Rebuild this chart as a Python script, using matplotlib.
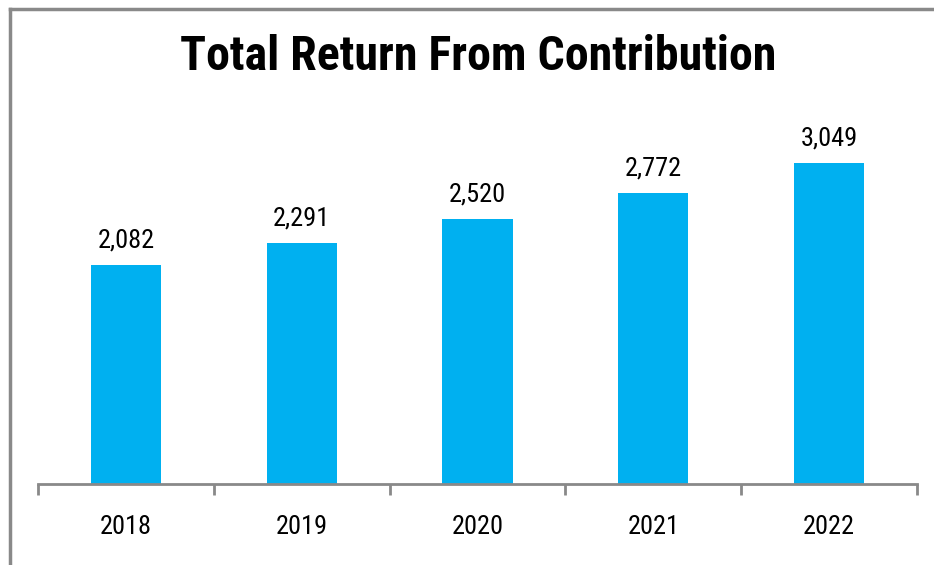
import matplotlib
matplotlib.use('Agg')
import matplotlib.pyplot as plt
from matplotlib.lines import Line2D

plt.rcParams['font.family'] = ['Roboto Condensed', 'DejaVu Sans']

# Data
years = ['2018', '2019', '2020', '2021', '2022']
returns = [2082, 2291, 2520, 2772, 3049]

BAR_COLOR = '#00B0F0'
AXIS_COLOR = '#898989'

fig = plt.figure(figsize=(9.34, 5.65), dpi=100)
ax = fig.add_axes([38 / 934, 81 / 565, (917 - 38) / 934, (484 - 116) / 565])

x = list(range(len(years)))
bars = ax.bar(x, returns, width=0.40, color=BAR_COLOR)
ax.bar_label(bars, labels=[f'{v:,}' for v in returns], padding=9, fontsize=19)

ax.set_xlim(-0.5, len(years) - 0.5)
ax.set_ylim(0, 3500)

# spines
for side in ['top', 'right', 'left']:
    ax.spines[side].set_visible(False)
ax.spines['bottom'].set_color(AXIS_COLOR)
ax.spines['bottom'].set_linewidth(2)
ax.set_yticks([])

# tick marks at category boundaries, labels at centers
ax.set_xticks([i - 0.5 for i in range(len(years) + 1)])
ax.set_xticklabels([])
ax.tick_params(axis='x', which='major', length=8, width=2, color=AXIS_COLOR, direction='out')
ax.set_xticks(x, minor=True)
ax.set_xticklabels(years, minor=True, fontsize=19)
ax.tick_params(axis='x', which='minor', length=0, pad=22)

fig.text(478 / 934, 1 - 57 / 565, 'Total Return From Contribution',
         ha='center', va='center', fontsize=34.5, fontweight='bold')

# chart border (only left and top visible in the crop)
fig.add_artist(Line2D([10 / 934, 10 / 934], [0, 1 - 9 / 565], transform=fig.transFigure,
                      color=AXIS_COLOR, linewidth=2.5))
fig.add_artist(Line2D([10 / 934, 1], [1 - 9 / 565, 1 - 9 / 565], transform=fig.transFigure,
                      color=AXIS_COLOR, linewidth=2.5))

plt.savefig('out.png', dpi=100)
plt.close()
